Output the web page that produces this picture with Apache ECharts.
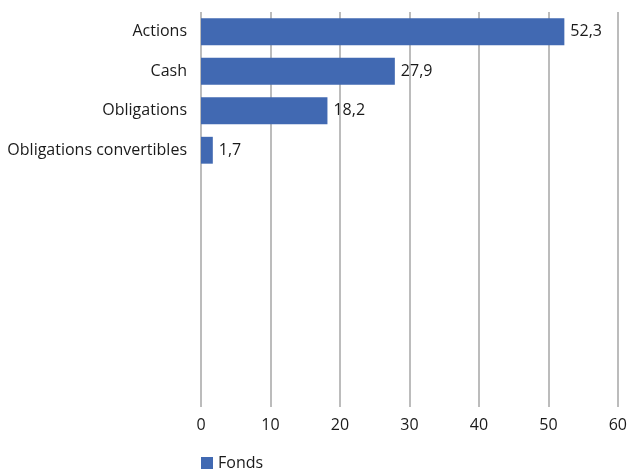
<!DOCTYPE html>
<html>
<head>
<meta charset="utf-8">
<script src="https://cdn.jsdelivr.net/npm/echarts@6/dist/echarts.min.js"></script>
<style>
  html, body { margin: 0; padding: 0; background: #fff; }
  #chart { width: 630px; height: 472px; }
</style>
</head>
<body>
<div id="chart"></div>
<script>
  // catégories et valeurs
  const categories = ['Actions', 'Cash', 'Obligations', 'Obligations convertibles']
  const fonds = [52.3, 27.9, 18.2, 1.7]
  const seriesName = 'Fonds'

  const textFont = '"Open Sans", "Noto Sans", sans-serif'
  const fmt = (v) => String(v).replace('.', ',')

  const chart = echarts.init(document.getElementById('chart'))
  chart.setOption({
    animation: false,
    textStyle: { fontFamily: textFont },
    grid: { left: 201, right: 9, top: 12, bottom: 65 },
    legend: {
      left: 196,
      bottom: -4,
      itemWidth: 12,
      itemHeight: 12,
      itemGap: 8,
      icon: 'rect',
      textStyle: { fontSize: 16, color: '#1a1a1a', fontFamily: textFont },
      data: [seriesName]
    },
    xAxis: {
      type: 'value',
      min: 0,
      max: 60,
      interval: 10,
      axisLine: { show: false },
      axisTick: { show: false },
      axisLabel: { fontSize: 16, color: '#1a1a1a', margin: 10 },
      splitLine: { show: true, lineStyle: { color: '#a6a6a6', width: 1.5 } }
    },
    yAxis: {
      type: 'category',
      inverse: true,
      data: categories,
      min: 0,
      max: 9,
      axisLine: { show: false },
      axisTick: { show: false },
      axisLabel: { fontSize: 16, color: '#1a1a1a', margin: 14 }
    },
    series: [
      {
        name: seriesName,
        type: 'bar',
        data: fonds,
        barWidth: '68%',
        itemStyle: { color: '#4169b2' },
        label: {
          show: true,
          position: 'right',
          distance: 6,
          fontSize: 16,
          color: '#1a1a1a',
          formatter: (p) => fmt(p.value)
        }
      }
    ]
  })
</script>
</body>
</html>
